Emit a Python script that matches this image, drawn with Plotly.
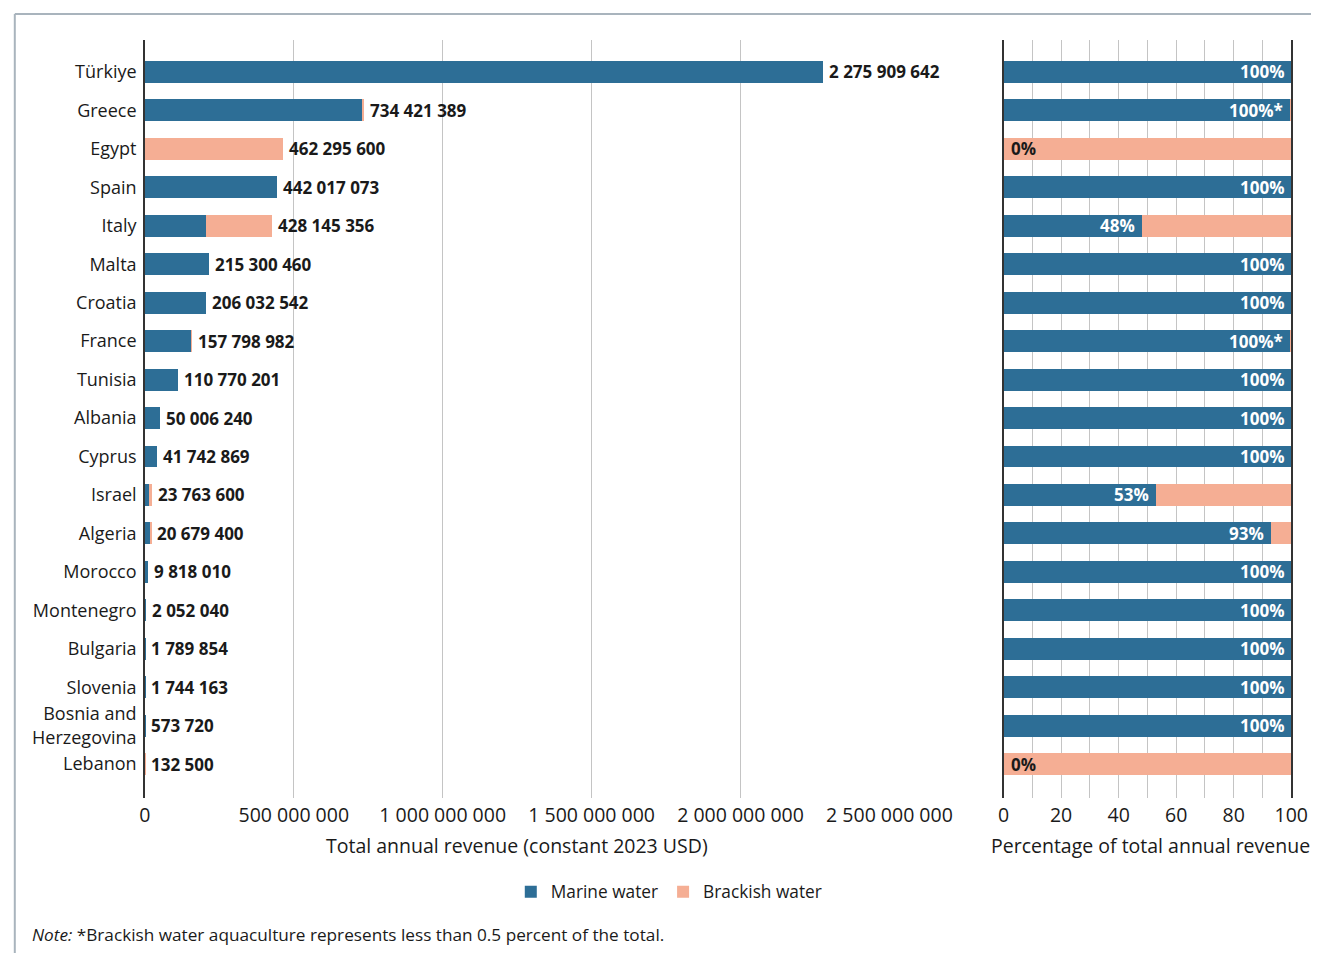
import plotly.graph_objects as go

countries = ["Türkiye", "Greece", "Egypt", "Spain", "Italy", "Malta", "Croatia", "France",
             "Tunisia", "Albania", "Cyprus", "Israel", "Algeria", "Morocco", "Montenegro",
             "Bulgaria", "Slovenia", "Bosnia and<br>Herzegovina", "Lebanon"]
totals = [2275909642, 734421389, 462295600, 442017073, 428145356, 215300460, 206032542,
          157798982, 110770201, 50006240, 41742869, 23763600, 20679400, 9818010, 2052040,
          1789854, 1744163, 573720, 132500]
marine_pct = [100, 99.6, 0, 100, 48, 100, 100, 99.6, 100, 100, 100, 53, 93, 100, 100,
              100, 100, 100, 0]
pct_labels = ["100%", "100%*", "0%", "100%", "48%", "100%", "100%", "100%*", "100%", "100%",
              "100%", "53%", "93%", "100%", "100%", "100%", "100%", "100%", "0%"]
x_ticks = [0, 500000000, 1000000000, 1500000000, 2000000000, 2500000000]
x_ticktext = ["0", "500 000 000", "1 000 000 000", "1 500 000 000", "2 000 000 000", "2 500 000 000"]
pct_ticks = [0, 10, 20, 30, 40, 50, 60, 70, 80, 90, 100]
pct_ticktext = ["0", "", "20", "", "40", "", "60", "", "80", "", "100"]

marine = [t * p / 100 for t, p in zip(totals, marine_pct)]
brackish = [t - m for t, m in zip(totals, marine)]
brackish_pct = [100 - p for p in marine_pct]

BLUE = "#2d6e96"
SALMON = "#f5ae94"
FONT = "Open Sans"
TXT = "#1a1a1a"
W, H = 1400, 953
K, OX, OY = 0.950, 13.2, 8.0


def px(x):
    return ((x - OX) / K) / W


def py(y):
    return 1 - (y - OY) / H


fig = go.Figure()
fig.add_trace(go.Bar(y=countries, x=marine, orientation="h", name="Marine water",
                     marker=dict(color=BLUE, line=dict(width=0)), xaxis="x", yaxis="y"))
fig.add_trace(go.Bar(y=countries, x=brackish, orientation="h", name="Brackish water",
                     marker=dict(color=SALMON, line=dict(width=0)), xaxis="x", yaxis="y"))
fig.add_trace(go.Bar(y=countries, x=marine_pct, orientation="h", showlegend=False,
                     marker=dict(color=BLUE, line=dict(width=0)), xaxis="x2", yaxis="y2"))
fig.add_trace(go.Bar(y=countries, x=brackish_pct, orientation="h", showlegend=False,
                     marker=dict(color=SALMON, line=dict(width=0)), xaxis="x2", yaxis="y2"))

annotations = []
for c, t in zip(countries, totals):
    annotations.append(dict(x=t, y=c, xref="x", yref="y", text="<b>%s</b>" % f"{t:,}".replace(",", " "),
                            showarrow=False, xanchor="left", xshift=4,
                            font=dict(family=FONT, size=17, color=TXT)))
for c, p, lab in zip(countries, marine_pct, pct_labels):
    if p > 0:
        annotations.append(dict(x=p, y=c, xref="x2", yref="y2", text="<b>%s</b>" % lab,
                                showarrow=False, xanchor="right", xshift=-5,
                                font=dict(family=FONT, size=17, color="white")))
    else:
        annotations.append(dict(x=0, y=c, xref="x2", yref="y2", text="<b>%s</b>" % lab,
                                showarrow=False, xanchor="left", xshift=5,
                                font=dict(family=FONT, size=17, color=TXT)))
annotations.append(dict(x=px(516), y=py(845), xref="paper", yref="paper", xanchor="center",
                        yanchor="middle", text="Total annual revenue (constant 2023 USD)",
                        showarrow=False, font=dict(family=FONT, size=19.5, color=TXT)))
annotations.append(dict(x=px(1149), y=py(845), xref="paper", yref="paper", xanchor="center",
                        yanchor="middle", text="Percentage of total annual revenue",
                        showarrow=False, font=dict(family=FONT, size=19.5, color=TXT)))
annotations.append(dict(x=px(29), y=py(934), xref="paper", yref="paper", xanchor="left",
                        yanchor="middle",
                        text="<i>Note:</i> *Brackish water aquaculture represents less than 0.5 percent of the total.",
                        showarrow=False, font=dict(family=FONT, size=17.2, color=TXT)))

yr = [18.88, -0.83]
ydom = [py(798), py(40)]
fig.update_layout(
    width=W, height=H, margin=dict(l=0, r=0, t=0, b=0),
    paper_bgcolor="white", plot_bgcolor="white",
    barmode="stack", bargap=0.43,
    font=dict(family=FONT, size=18, color=TXT),
    showlegend=True,
    legend=dict(orientation="h", x=px(668), xanchor="center", y=py(892), yanchor="middle",
                font=dict(family=FONT, size=17.3, color=TXT), traceorder="normal"),
    xaxis=dict(domain=[px(144), px(888)], range=[0, 2500000000], tickvals=x_ticks,
               ticktext=x_ticktext, showgrid=True, gridcolor="#c4c4c4", gridwidth=1,
               zeroline=False, showline=False, ticks="", anchor="y",
               tickfont=dict(size=19.5, color=TXT), ticklabelstandoff=3),
    yaxis=dict(domain=ydom, type="category", categoryarray=countries, range=yr,
               showline=True, linecolor="#333333", linewidth=1.5, ticks="",
               showgrid=False, anchor="x", tickfont=dict(size=18, color=TXT),
               ticklabelstandoff=3),
    xaxis2=dict(domain=[px(1002), px(1289.5)], range=[0, 100], tickvals=pct_ticks,
                ticktext=pct_ticktext, showgrid=True, gridcolor="#c4c4c4", gridwidth=1,
                zeroline=False, showline=False, ticks="", anchor="y2",
                tickfont=dict(size=19.5, color=TXT), ticklabelstandoff=3),
    yaxis2=dict(domain=ydom, type="category", categoryarray=countries, range=yr,
                showline=True, mirror=True, linecolor="#333333", linewidth=1.5, ticks="",
                showgrid=False, showticklabels=False, anchor="x2"),
    annotations=annotations,
    shapes=[
        dict(type="line", xref="paper", yref="paper", x0=0.0006, x1=1, y0=py(14), y1=py(14),
             line=dict(color="#a9b4bd", width=2)),
        dict(type="line", xref="paper", yref="paper", x0=0.0006, x1=0.0006, y0=py(14), y1=0,
             line=dict(color="#a9b4bd", width=2)),
    ],
)

fig.write_html("out.html")
